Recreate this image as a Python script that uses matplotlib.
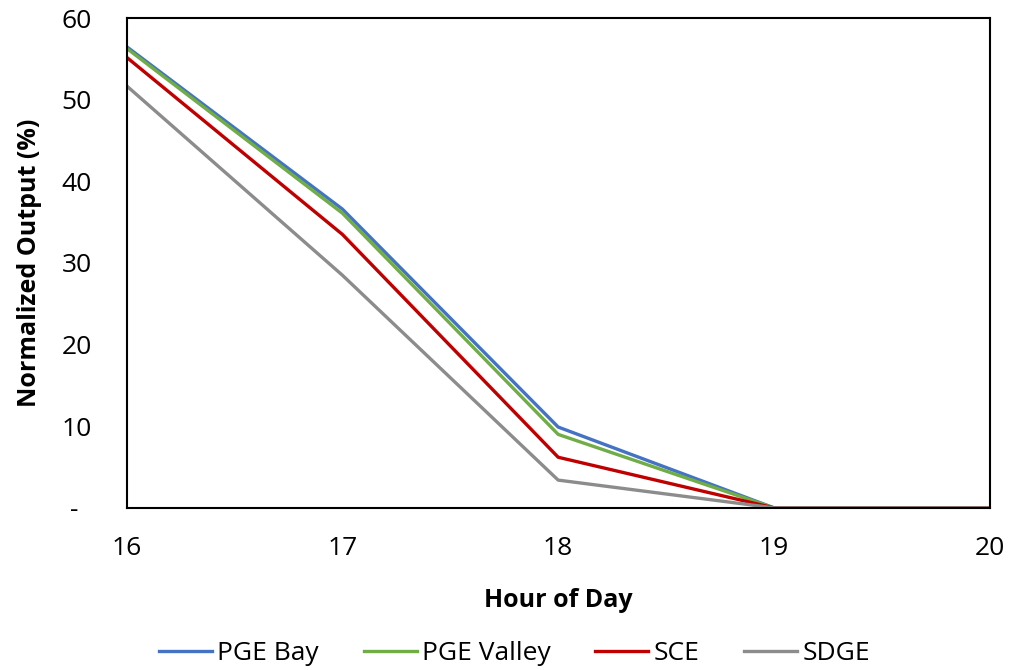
import matplotlib.pyplot as plt

hours = [16, 17, 18, 19, 20]
pge_bay = [56.5, 36.6, 9.9, 0, 0]
pge_valley = [56.3, 36.1, 9.0, 0, 0]
sce = [55.2, 33.5, 6.2, 0, 0]
sdge = [51.7, 28.5, 3.4, 0, 0]

series = [
    ('PGE Bay', pge_bay, '#4472C4'),
    ('PGE Valley', pge_valley, '#70AD47'),
    ('SCE', sce, '#C00000'),
    ('SDGE', sdge, '#8C8C8C'),
]
yticks = [0, 10, 20, 30, 40, 50, 60]
ytick_labels = ['-  ', '10', '20', '30', '40', '50', '60']

plt.rcParams['font.family'] = ['Open Sans', 'DejaVu Sans']

fig = plt.figure(figsize=(10.13, 6.70), dpi=100)
ax = fig.add_axes([0.125, 0.242, 0.852, 0.731])

for name, vals, color in series:
    ax.plot(hours, vals, color=color, lw=2.4, label=name)

ax.set_xlim(16, 20)
ax.set_ylim(0, 60)
ax.set_xticks(hours)
ax.set_yticks(yticks)
ax.set_yticklabels(ytick_labels)
ax.tick_params(length=0, labelsize=19)
ax.tick_params(axis='x', pad=20)
ax.tick_params(axis='y', pad=25)
for s in ax.spines.values():
    s.set_linewidth(1.5)
    s.set_color('black')

ax.set_xlabel('Hour of Day', fontsize=18, fontweight='bold', labelpad=20)
ax.set_ylabel('Normalized Output (%)', fontsize=18, fontweight='bold', labelpad=14)

fig.legend(loc='lower center', bbox_to_anchor=(0.508, -0.03), ncol=4, frameon=False,
           fontsize=19, handlelength=2.0, columnspacing=1.7, handletextpad=0.2)

fig.savefig('out.png', dpi=100)
